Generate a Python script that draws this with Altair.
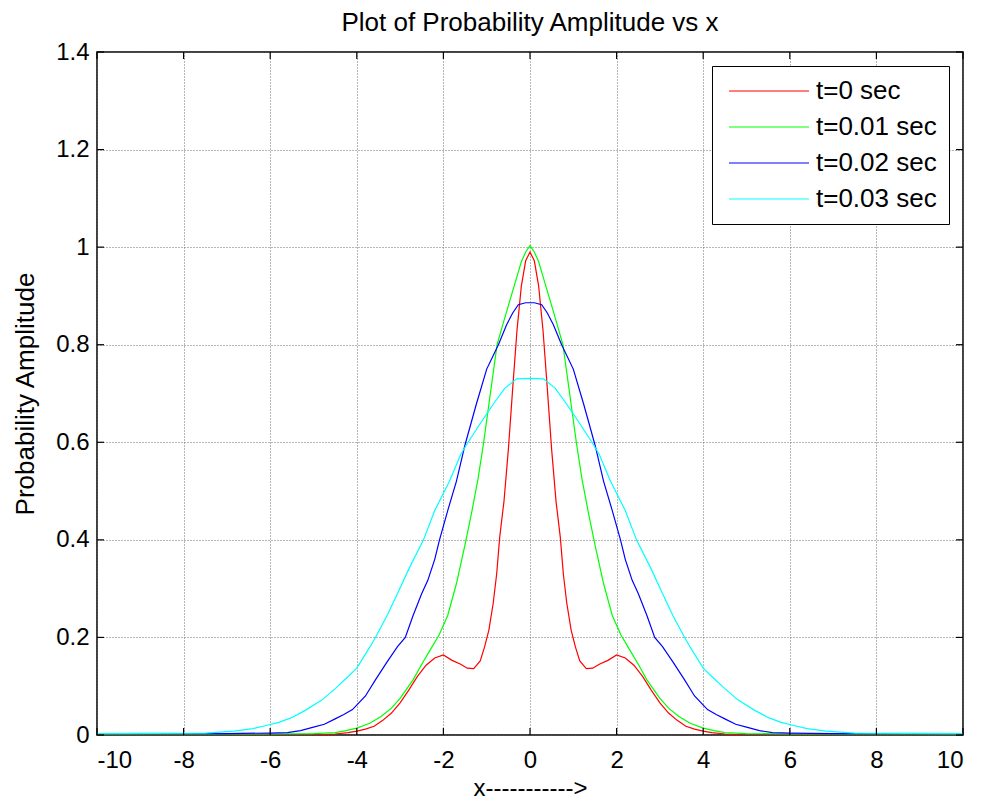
import altair as alt
import pandas as pd

# ---- data ----
X_RED = [-10, -8, -6, -5, -4.5, -4.2, -4.0, -3.8, -3.6, -3.4, -3.2, -3.0, -2.8, -2.6, -2.4, -2.2, -2.0,
         -1.8, -1.6, -1.45, -1.3, -1.15, -1.05, -0.95, -0.85, -0.77, -0.7, -0.6, -0.5, -0.4, -0.3, -0.2,
         -0.1, 0, 0.1, 0.2, 0.3, 0.4, 0.5, 0.6, 0.7, 0.77, 0.85, 0.95, 1.05, 1.15, 1.3, 1.45, 1.6, 1.8,
         2.0, 2.2, 2.4, 2.6, 2.8, 3.0, 3.2, 3.4, 3.6, 3.8, 4.0, 4.2, 4.5, 5, 6, 8, 10]
Y_RED = [0, 0, 0, 0, 0.002, 0.005, 0.008, 0.012, 0.018, 0.03, 0.045, 0.066, 0.092, 0.12, 0.143, 0.158,
         0.164, 0.153, 0.145, 0.137, 0.136, 0.152, 0.18, 0.215, 0.27, 0.33, 0.405, 0.48, 0.585, 0.71,
         0.83, 0.92, 0.972, 0.99, 0.972, 0.92, 0.83, 0.71, 0.585, 0.48, 0.405, 0.33, 0.27, 0.215, 0.18,
         0.152, 0.136, 0.137, 0.145, 0.153, 0.164, 0.158, 0.143, 0.12, 0.092, 0.066, 0.045, 0.03, 0.018,
         0.012, 0.008, 0.005, 0.002, 0, 0, 0, 0]

X_GREEN = [-10, -9.2, -6, -5, -4.5, -4.25, -4.0, -3.7, -3.44, -3.2, -3.0, -2.7, -2.5, -2.3, -2.1, -1.9,
           -1.7, -1.5, -1.35, -1.2, -1.07, -0.9, -0.76, -0.6, -0.45, -0.3, -0.2, -0.1, 0, 0.1, 0.2, 0.3,
           0.45, 0.6, 0.76, 0.9, 1.07, 1.2, 1.35, 1.5, 1.7, 1.9, 2.1, 2.3, 2.5, 2.7, 3.0, 3.2, 3.44, 3.7,
           4.0, 4.25, 4.5, 5, 6, 9.2, 10]
Y_GREEN = [0.002, 0.002, 0.002, 0.003, 0.005, 0.009, 0.014, 0.024, 0.038, 0.055, 0.075, 0.113, 0.145,
           0.175, 0.205, 0.245, 0.31, 0.39, 0.455, 0.525, 0.6, 0.71, 0.8, 0.85, 0.895, 0.94, 0.97, 0.99,
           1.003, 0.99, 0.97, 0.94, 0.895, 0.85, 0.8, 0.71, 0.6, 0.525, 0.455, 0.39, 0.31, 0.245, 0.205,
           0.175, 0.145, 0.113, 0.075, 0.055, 0.038, 0.024, 0.014, 0.009, 0.005, 0.003, 0.002, 0.002, 0.002]

X_BLUE = [-10, -7, -6, -5.6, -5.3, -5.0, -4.75, -4.5, -4.3, -4.1, -3.8, -3.57, -3.3, -3.06, -2.88, -2.7,
          -2.5, -2.36, -2.2, -2.09, -1.9, -1.7, -1.5, -1.24, -1.0, -0.73, -0.54, -0.4, -0.27, -0.1, 0,
          0.1, 0.27, 0.4, 0.54, 0.73, 1.0, 1.24, 1.5, 1.7, 1.9, 2.09, 2.2, 2.36, 2.5, 2.7, 2.88, 3.06,
          3.3, 3.57, 3.8, 4.1, 4.3, 4.5, 4.75, 5.0, 5.3, 5.6, 6, 7, 10]
Y_BLUE = [0.003, 0.003, 0.004, 0.005, 0.009, 0.016, 0.022, 0.033, 0.042, 0.052, 0.08, 0.113, 0.15,
          0.181, 0.2, 0.245, 0.29, 0.317, 0.36, 0.4, 0.46, 0.52, 0.595, 0.678, 0.75, 0.8, 0.841, 0.865,
          0.882, 0.886, 0.886, 0.886, 0.882, 0.865, 0.841, 0.8, 0.75, 0.678, 0.595, 0.52, 0.46, 0.4,
          0.36, 0.317, 0.29, 0.245, 0.2, 0.181, 0.15, 0.113, 0.08, 0.052, 0.042, 0.033, 0.022, 0.016,
          0.009, 0.005, 0.004, 0.003, 0.003]

X_CYAN = [-10, -7.5, -6.84, -6.4, -6.07, -5.8, -5.52, -5.2, -4.8, -4.5, -4.21, -4.0, -3.7, -3.57, -3.3,
          -3.06, -2.8, -2.46, -2.2, -1.86, -1.6, -1.43, -1.16, -0.85, -0.58, -0.31, 0, 0.31, 0.58, 0.85,
          1.16, 1.43, 1.6, 1.86, 2.2, 2.46, 2.8, 3.06, 3.3, 3.57, 3.7, 4.0, 4.21, 4.5, 4.8, 5.2, 5.52,
          5.8, 6.07, 6.4, 6.84, 7.5, 10]
Y_CYAN = [0.003, 0.004, 0.008, 0.013, 0.02, 0.026, 0.035, 0.05, 0.072, 0.095, 0.119, 0.137, 0.18, 0.2,
          0.245, 0.29, 0.34, 0.4, 0.46, 0.52, 0.575, 0.6, 0.637, 0.678, 0.711, 0.73, 0.731, 0.73, 0.711,
          0.678, 0.637, 0.6, 0.575, 0.52, 0.46, 0.4, 0.34, 0.29, 0.245, 0.2, 0.18, 0.137, 0.119, 0.095,
          0.072, 0.05, 0.035, 0.026, 0.02, 0.013, 0.008, 0.004, 0.003]

SERIES = ["t=0 sec", "t=0.01 sec", "t=0.02 sec", "t=0.03 sec"]
COLORS = ["#FF0000", "#00FF00", "#0000FF", "#00FFFF"]
X_TICKS = [-10, -8, -6, -4, -2, 0, 2, 4, 6, 8, 10]
Y_TICKS = [0, 0.2, 0.4, 0.6, 0.8, 1, 1.2, 1.4]

TITLE = "Plot of Probability Amplitude vs x"
X_TITLE = "x----------->"
Y_TITLE = "Probability Amplitude"

# ---- build tables ----
frames = []
for name, xs, ys in zip(SERIES, [X_RED, X_GREEN, X_BLUE, X_CYAN], [Y_RED, Y_GREEN, Y_BLUE, Y_CYAN]):
    frames.append(pd.DataFrame({"x": xs, "y": ys, "series": name, "order": range(len(xs))}))
df = pd.concat(frames, ignore_index=True)

xt = pd.DataFrame({"x": X_TICKS})
yt = pd.DataFrame({"y": Y_TICKS})

W, H = 866, 683
FONT = "Arial, Liberation Sans, sans-serif"
TL = 7

xscale = alt.Scale(domain=[-10, 10], nice=False, zero=False)
yscale = alt.Scale(domain=[0, 1.4], nice=False, zero=False)

lines = alt.Chart(df).mark_line(strokeWidth=1.2, clip=True).encode(
    x=alt.X("x:Q", scale=xscale,
            axis=alt.Axis(values=X_TICKS, title=X_TITLE, labelExpr="replace(datum.label, '\u2212', '-')",
                          labelPadding=13, titlePadding=4, titleFontSize=24)),
    y=alt.Y("y:Q", scale=yscale,
            axis=alt.Axis(values=Y_TICKS, title=Y_TITLE, format="~g", labelPadding=8, titlePadding=17,
                          titleFontSize=26)),
    color=alt.Color("series:N", scale=alt.Scale(domain=SERIES, range=COLORS),
                    legend=alt.Legend(title=None, orient="none", legendX=615, legendY=14,
                                      symbolType="M-1.6,0H14.4", symbolSize=100,
                                      symbolStrokeWidth=1.2, labelOffset=66,
                                      labelFontSize=26, labelFont=FONT, labelColor="#000",
                                      rowPadding=10, padding=12,
                                      strokeColor="#000", fillColor="#fff")),
    order="order:Q",
    detail="series:N",
)

rule_style = dict(color="#000", strokeWidth=1.2)
bottom_ticks = alt.Chart(xt).mark_rule(**rule_style).encode(
    x=alt.X("x:Q", scale=xscale), y=alt.value(H), y2=alt.value(H - TL))
top_ticks = alt.Chart(xt).mark_rule(**rule_style).encode(
    x=alt.X("x:Q", scale=xscale), y=alt.value(0), y2=alt.value(TL))
left_ticks = alt.Chart(yt).mark_rule(**rule_style).encode(
    y=alt.Y("y:Q", scale=yscale), x=alt.value(0), x2=alt.value(TL))
right_ticks = alt.Chart(yt).mark_rule(**rule_style).encode(
    y=alt.Y("y:Q", scale=yscale), x=alt.value(W), x2=alt.value(W - TL))

chart = alt.layer(lines, bottom_ticks, top_ticks, left_ticks, right_ticks).properties(
    width=W, height=H,
    title=alt.TitleParams(TITLE, fontSize=26, font=FONT, fontWeight="normal", color="#000",
                          anchor="middle", offset=4),
    autosize=alt.AutoSizeParams(type="none"),
    padding={"left": 97, "top": 52, "right": 19, "bottom": 70},
    background="#ffffff",
).configure_view(
    stroke="#000", strokeWidth=1.5
).configure_axis(
    labelFont=FONT, labelFontSize=24, labelColor="#000",
    titleFont=FONT, titleFontWeight="normal", titleColor="#000",
    ticks=False, domain=False,
    grid=True, gridColor="#606060", gridDash=[1, 2], gridWidth=1, gridOpacity=0.9,
)

chart.save("out.html", embed_options={"renderer": "svg", "actions": False})
